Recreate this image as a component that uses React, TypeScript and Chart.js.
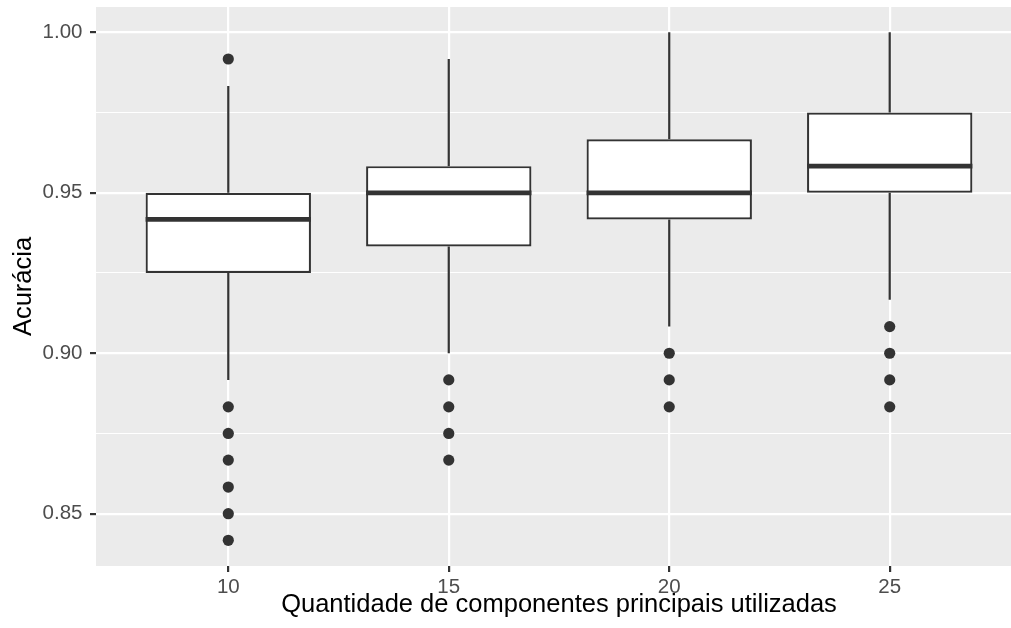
import { useEffect, useRef } from "react";
import { Chart, registerables } from "chart.js";

Chart.register(...registerables);

// Component counts on the horizontal axis
const categories = [10, 15, 20, 25];

// Five-number summaries of accuracy for each component count
const lowerWhisker = [0.8917, 0.9, 0.9083, 0.9167];
const q1 = [0.925, 0.9333, 0.9417, 0.95];
const median = [0.9417, 0.95, 0.95, 0.9583];
const q3 = [0.95, 0.9583, 0.9667, 0.975];
const upperWhisker = [0.9833, 0.9917, 1.0, 1.0];

// Outlying runs per component count
const outliers10 = [0.9917, 0.8833, 0.875, 0.8667, 0.8583, 0.85, 0.8417];
const outliers15 = [0.8917, 0.8833, 0.875, 0.8667];
const outliers20 = [0.9, 0.8917, 0.8833];
const outliers25 = [0.9083, 0.9, 0.8917, 0.8833];
const outliersByCategory = [outliers10, outliers15, outliers20, outliers25];

// Axis ticks
const yMajorTicks = [0.85, 0.9, 0.95, 1.0];
const yMinorTicks = [0.875, 0.925, 0.975];

const INK = "#333333";
const PANEL = "#EBEBEB";
const FONT = "'Liberation Sans', Arial, sans-serif";

// Fixed axis band sizes (px) so the panel sits where ggplot-style layouts put it
const Y_AXIS_WIDTH = 96;
const X_AXIS_HEIGHT = 62;

const clearScalePadding = (scale: any) => {
  scale.paddingTop = 0;
  scale.paddingBottom = 0;
  scale.paddingLeft = 0;
  scale.paddingRight = 0;
};

const boxplotLines = {
  id: "boxplotLines",
  beforeDraw(chart: any) {
    const { ctx, chartArea } = chart;
    ctx.save();
    ctx.fillStyle = PANEL;
    ctx.fillRect(chartArea.left, chartArea.top, chartArea.right - chartArea.left, chartArea.bottom - chartArea.top);
    ctx.restore();
  },
  beforeDatasetsDraw(chart: any) {
    const { ctx } = chart;
    const x = chart.scales.x;
    const y = chart.scales.y;
    ctx.save();
    ctx.strokeStyle = INK;
    ctx.lineWidth = 2.2;
    categories.forEach((c, i) => {
      const px = x.getPixelForValue(c);
      ctx.beginPath();
      ctx.moveTo(px, y.getPixelForValue(upperWhisker[i]));
      ctx.lineTo(px, y.getPixelForValue(q3[i]));
      ctx.moveTo(px, y.getPixelForValue(q1[i]));
      ctx.lineTo(px, y.getPixelForValue(lowerWhisker[i]));
      ctx.stroke();
    });
    ctx.restore();
  },
  afterDatasetsDraw(chart: any) {
    const { ctx } = chart;
    const y = chart.scales.y;
    const meta = chart.getDatasetMeta(0);
    ctx.save();
    ctx.strokeStyle = INK;
    ctx.lineWidth = 4.8;
    meta.data.forEach((el: any, i: number) => {
      const { x: cx, width } = el.getProps(["x", "width"], true);
      const py = y.getPixelForValue(median[i]);
      ctx.beginPath();
      ctx.moveTo(cx - width / 2, py);
      ctx.lineTo(cx + width / 2, py);
      ctx.stroke();
    });
    ctx.restore();
  },
};

export default function App() {
  const canvasRef = useRef<HTMLCanvasElement | null>(null);

  useEffect(() => {
    const canvas = canvasRef.current;
    if (!canvas) return;

    const boxes = categories.map((c, i) => ({ x: c, y: [q1[i], q3[i]] }));
    const points = categories.flatMap((c, i) => outliersByCategory[i].map((v) => ({ x: c, y: v })));
    const yTicks = [...yMajorTicks, ...yMinorTicks].sort((a, b) => a - b);

    const chart = new Chart(canvas, {
      type: "bar",
      data: {
        datasets: [
          {
            type: "bar",
            data: boxes as any,
            backgroundColor: "#FFFFFF",
            borderColor: INK,
            borderWidth: 2.2,
            borderSkipped: false,
            barPercentage: 0.75,
            categoryPercentage: 1,
          },
          {
            type: "scatter",
            data: points as any,
            backgroundColor: INK,
            borderWidth: 0,
            pointRadius: 5.6,
            pointHoverRadius: 5.6,
          },
        ],
      },
      options: {
        animation: false,
        responsive: false,
        devicePixelRatio: 1,
        events: [],
        layout: {
          autoPadding: false,
          padding: { left: 0, top: 7, right: 8, bottom: 0 },
        },
        plugins: {
          legend: { display: false },
          tooltip: { enabled: false },
        },
        scales: {
          x: {
            type: "linear",
            min: 7,
            max: 28,
            offset: false,
            afterBuildTicks: (axis: any) => {
              axis.ticks = categories.map((v) => ({ value: v }));
            },
            afterFit: (scale: any) => {
              scale.height = X_AXIS_HEIGHT;
              clearScalePadding(scale);
            },
            ticks: {
              autoSkip: false,
              maxRotation: 0,
              padding: 5.5,
              color: "#4D4D4D",
              font: { family: FONT, size: 20.5, lineHeight: 1 },
              callback: (v: any) => String(v),
            },
            grid: {
              offset: false,
              color: "#FFFFFF",
              lineWidth: 2.2,
              tickColor: INK,
              tickWidth: 2.2,
              tickLength: 6,
            },
            border: { display: false },
            title: {
              display: true,
              text: "Quantidade de componentes principais utilizadas",
              color: "#000000",
              font: { family: FONT, size: 25.5, lineHeight: 1.2 },
              padding: { top: 0, bottom: 7.5 },
            },
          },
          y: {
            type: "linear",
            min: 0.8337,
            max: 1.0079,
            beginAtZero: false,
            afterBuildTicks: (axis: any) => {
              axis.ticks = yTicks.map((v) => ({ value: v }));
            },
            afterFit: (scale: any) => {
              scale.width = Y_AXIS_WIDTH;
              clearScalePadding(scale);
            },
            ticks: {
              autoSkip: false,
              padding: 7.5,
              color: "#4D4D4D",
              font: { family: FONT, size: 20.5, lineHeight: 1 },
              callback: (v: any) => (yMajorTicks.includes(v) ? Number(v).toFixed(2) : ""),
            },
            grid: {
              color: "#FFFFFF",
              lineWidth: (ctx: any) => (yMajorTicks.includes(ctx.tick?.value) ? 2.2 : 1.1),
              tickColor: (ctx: any) => (yMajorTicks.includes(ctx.tick?.value) ? INK : "rgba(0,0,0,0)"),
              tickWidth: 2.2,
              tickLength: 6,
            },
            border: { display: false },
            title: {
              display: true,
              text: "Acurácia",
              color: "#000000",
              font: { family: FONT, size: 25.5, lineHeight: 1.2 },
              padding: { top: 8.7, bottom: 0 },
            },
          },
        },
      },
      plugins: [boxplotLines],
    } as any);

    return () => chart.destroy();
  }, []);

  return (
    <div
      style={{
        position: "fixed",
        left: 0,
        top: 0,
        width: 1011,
        height: 628,
        overflow: "hidden",
        background: "#FFFFFF",
      }}
    >
      <canvas ref={canvasRef} width={1030} height={628} style={{ display: "block" }} />
    </div>
  );
}
